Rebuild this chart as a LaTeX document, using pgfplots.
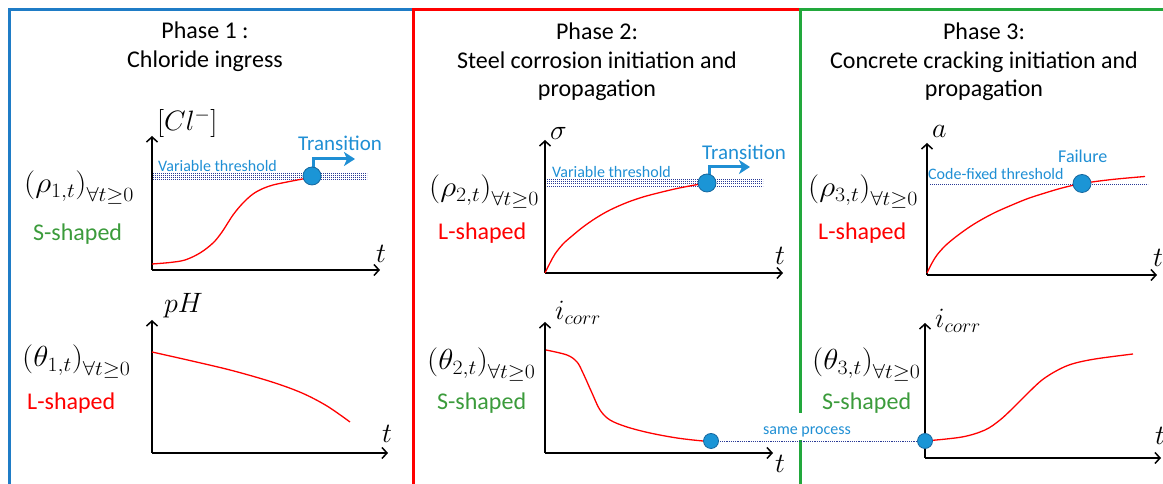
\RequirePackage{fix-cm}
\documentclass[border=0pt]{standalone}
\usepackage{fontspec}
\setmainfont{Carlito}
\usepackage{graphicx}
\usepackage{pgfplots}
\pgfplotsset{compat=1.18}
\usetikzlibrary{arrows.meta}
\definecolor{bdblue}{HTML}{1F7CC6}
\definecolor{bdred}{HTML}{FF0000}
\definecolor{bdgreen}{HTML}{22A83C}
\definecolor{txtblue}{HTML}{1F8FD4}
\definecolor{txtgreen}{HTML}{3B9B3B}
\definecolor{navy}{HTML}{2A3A96}
\definecolor{dotfill}{HTML}{1B95D6}
\definecolor{dotedge}{HTML}{16679E}
\newcommand{\T}{\fontsize{24bp}{29bp}\selectfont}
\newcommand{\M}{\fontsize{28bp}{32bp}\selectfont}
\newcommand{\MM}{\fontsize{29bp}{33bp}\selectfont}
\newcommand{\Sh}{\fontsize{24bp}{28bp}\selectfont}
\newcommand{\Sm}{\fontsize{16bp}{19bp}\selectfont}
\newcommand{\Tr}{\fontsize{21bp}{25bp}\selectfont}
\newcommand{\W}[1]{\scalebox{1.08}[1.0]{#1}}
\pgfplotsset{
 mini/.style={x=1bp,y=1bp,xmin=0,ymin=0,axis lines*=left,ticks=none,clip=false,anchor=south west,
   axis line style={line width=1.6bp,-{Straight Barb[length=5bp,width=11bp,line width=1.5bp]}}},
 crv/.style={red,line width=1.3bp,smooth,tension=0.55,no marks},
 thr/.style={navy,line width=0.7bp,dash pattern=on 1bp off 1bp,no marks},
 dot/.style={only marks,mark=*,mark size=#1,mark options={fill=dotfill,draw=dotedge,line width=0.8bp}},
 dot/.default=9bp,
 trans/.style={txtblue,line width=3bp,no marks,-{Stealth[length=11bp,width=14bp,inset=3bp]}}
}
\begin{document}
\begin{tikzpicture}[x=1bp,y=1bp]
% panel borders
\draw[bdblue,line width=3bp] (9,-10) rectangle (413,474);
\draw[bdred,line width=3bp] (413,-10) rectangle (800,474);
\draw[bdgreen,line width=3bp] (800,-10) rectangle (1180,474);
\fill[white] (758,44) rectangle (860,71);

% ---------- Panel 1 top ----------
\begin{axis}[mini,at={(152,214)},xmax=228,ymax=134]
\addplot[thr] coordinates {(1,96.8)(215,96.8)};
\addplot[thr] coordinates {(1,94.6)(215,94.6)};
\addplot[thr] coordinates {(1,92.4)(215,92.4)};
\addplot[thr] coordinates {(1,90.2)(215,90.2)};
\addplot[crv] coordinates {(0,6)(18,7.5)(33,10)(48,17)(61,27)(70,38)(81,55)(91,67)(101,76)(111,81.5)(121,85)(135,88)(148,90.5)(160,93)};
\addplot[trans] coordinates {(161,101)(161,111)(203,111)};
\addplot[dot] coordinates {(160,94)};
\end{axis}
% ---------- Panel 1 bottom ----------
\begin{axis}[mini,at={(152,31)},xmax=236,ymax=133]
\addplot[crv] coordinates {(0,101)(40,92)(80,82.5)(120,71)(150,60)(175,47)(198,31)};
\end{axis}
% ---------- Panel 2 top ----------
\begin{axis}[mini,at={(545,211)},xmax=238,ymax=133]
\addplot[thr] coordinates {(2,93.4)(218,93.4)};
\addplot[thr] coordinates {(2,91.3)(218,91.3)};
\addplot[thr] coordinates {(2,89.2)(218,89.2)};
\addplot[thr] coordinates {(2,87.1)(218,87.1)};
\addplot[crv] coordinates {(0,0)(5,10)(10,19)(18,29)(27,37)(38,46)(51,55)(65,63)(82,70.5)(98,76)(115,80.5)(132,84.5)(150,88)(162,90)};
\addplot[trans] coordinates {(164,98)(164,106)(205,106)};
\addplot[dot] coordinates {(162,90)};
\end{axis}
% ---------- Panel 2 bottom ----------
\begin{axis}[mini,at={(545,31)},xmax=228,ymax=131]
\addplot[navy,line width=0.8bp,dash pattern=on 1.2bp off 1bp,no marks] coordinates {(166,12)(380,12)};
\addplot[crv] coordinates {(1,103)(22,98)(32,91)(38,80)(47,60)(55,43)(65,33)(82,26)(105,20)(132,15)(158,12)(166,12)};
\addplot[dot=7.5bp] coordinates {(166,12)};
\end{axis}
% ---------- Panel 3 top ----------
\begin{axis}[mini,at={(927,209)},xmax=230,ymax=132]
\addplot[thr] coordinates {(3,91)(221,91)};
\addplot[crv] coordinates {(0,2)(5,12)(10,20)(18,29)(28,37.5)(41,47)(53,54.5)(68,62.5)(85,70)(101,76.5)(118,82)(135,87)(155,91.5)(185,95.5)(218,98.5)};
\addplot[dot] coordinates {(155,91.5)};
\end{axis}
% ---------- Panel 3 bottom ----------
\begin{axis}[mini,at={(925,26)},xmax=236,ymax=135]
\addplot[crv] coordinates {(0,17)(37,21)(60,28)(75,38)(88,50)(103,65)(117,78)(132,87.5)(147,94)(170,99)(208,104)};
\addplot[dot=7.5bp] coordinates {(0,17)};
\end{axis}

% ---------- texts ----------
\tikzset{lb/.style={anchor=base west,inner sep=0pt},tt/.style={anchor=base,inner sep=0pt,font=\T}}
% titles
\node[tt] at (205,445) {Phase 1 :};
\node[tt] at (205,416) {Chloride ingress};
\node[tt] at (597,444) {Phase 2:};
\node[tt] at (597,415) {Steel corrosion initiation and};
\node[tt] at (597,387) {propagation};
\node[tt] at (984,444) {Phase 3:};
\node[tt] at (984,415) {Concrete cracking initiation and};
\node[tt] at (984,387) {propagation};
% panel 1
\node[lb,font=\M] at (157,353) {$[Cl^{-}]$};
\node[lb,font=\Sm,text=txtblue] at (158,312) {Variable threshold};
\node[lb,font=\Tr,text=txtblue] at (298,333) {Transition};
\node[lb,font=\MM] at (24,291) {\W{$\bigl(\rho_{1,t}\bigr)_{\forall t\geq 0}$}};
\node[lb,font=\Sh,text=txtgreen] at (33,243) {S-shaped};
\node[lb,font=\M] at (376,221) {$t$};
\node[lb,font=\M] at (164,171) {$pH$};
\node[lb,font=\MM] at (22,117) {\W{$\bigl(\theta_{1,t}\bigr)_{\forall t\geq 0}$}};
\node[lb,font=\Sh,text=red] at (27,74) {L-shaped};
\node[lb,font=\M] at (382,41) {$t$};
% panel 2
\node[lb,font=\M] at (550,344) {$\sigma$};
\node[lb,font=\Sm,text=txtblue] at (552,306) {Variable threshold};
\node[lb,font=\Tr,text=txtblue] at (702,324) {Transition};
\node[lb,font=\MM] at (429,287) {\W{$\bigl(\rho_{2,t}\bigr)_{\forall t\geq 0}$}};
\node[lb,font=\Sh,text=red] at (438,244) {L-shaped};
\node[lb,font=\M] at (775,219) {$t$};
\node[lb,font=\M] at (555,164) {$i_{corr}$};
\node[lb,font=\MM] at (427,114) {\W{$\bigl(\theta_{2,t}\bigr)_{\forall t\geq 0}$}};
\node[lb,font=\Sh,text=txtgreen] at (437,74) {S-shaped};
\node[lb,font=\M] at (775,11) {$t$};
\node[lb,font=\Sm,text=txtblue] at (763,49) {same process};
% panel 3
\node[lb,font=\M] at (932,346) {$a$};
\node[lb,font=\fontsize{18bp}{21bp}\selectfont,text=txtblue] at (1058,321) {Failure};
\node[lb,font=\Sm,text=txtblue] at (928,304) {Code-fixed threshold};
\node[lb,font=\MM] at (808,287) {\W{$\bigl(\rho_{3,t}\bigr)_{\forall t\geq 0}$}};
\node[lb,font=\Sh,text=red] at (818,244) {L-shaped};
\node[lb,font=\M] at (1153,217) {$t$};
\node[lb,font=\M] at (935,156) {$i_{corr}$};
\node[lb,font=\MM] at (812,114) {\W{$\bigl(\theta_{3,t}\bigr)_{\forall t\geq 0}$}};
\node[lb,font=\Sh,text=txtgreen] at (822,74) {S-shaped};
\node[lb,font=\M] at (1155,39) {$t$};

\pgfresetboundingbox
\path[use as bounding box] (0,0) rectangle (1163,484);
\end{tikzpicture}
\end{document}
